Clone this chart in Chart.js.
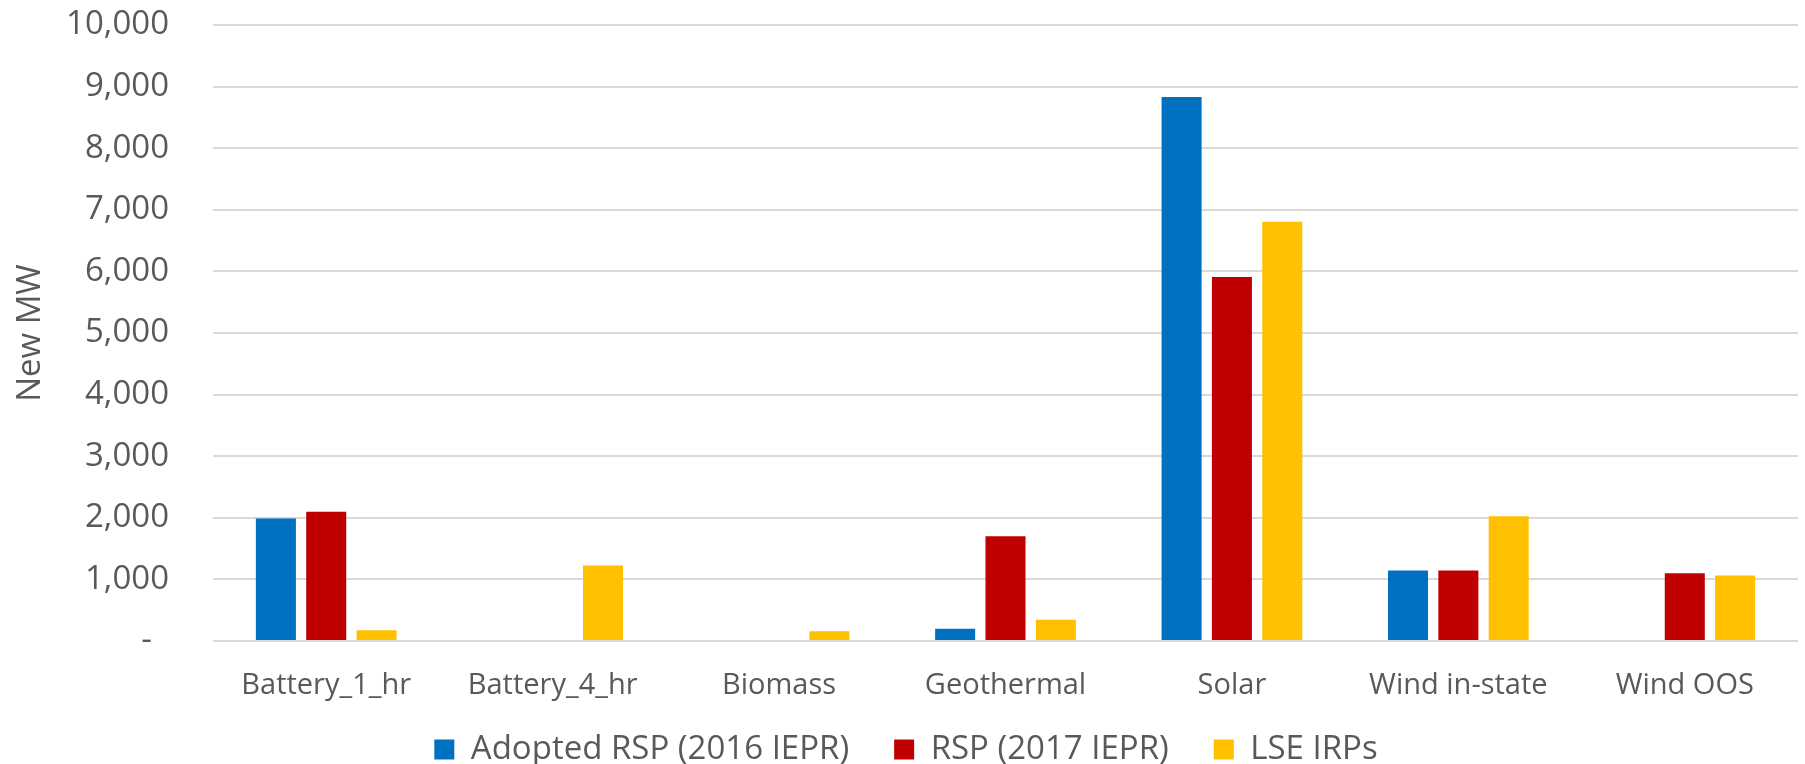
<!DOCTYPE html>
<html>
<head>
<meta charset="utf-8">
<script src="https://cdn.jsdelivr.net/npm/chart.js@4/dist/chart.umd.min.js"></script>
<style>
  html, body { margin: 0; padding: 0; background: #ffffff; }
  #wrap { width: 1805px; height: 764px; }
</style>
</head>
<body>
<div id="wrap"><canvas id="chart" width="1805" height="764"></canvas></div>
<script>
// Technology categories along the x axis
const categories = ['Battery_1_hr', 'Battery_4_hr', 'Biomass', 'Geothermal', 'Solar', 'Wind in-state', 'Wind OOS'];

// New capacity (MW) by portfolio
const adoptedRsp2016 = [1990, 0, 0, 200, 8830, 1145, 0];
const rsp2017 = [2100, 0, 0, 1700, 5910, 1145, 1100];
const lseIrps = [175, 1225, 160, 345, 6805, 2025, 1065];

// Series names and colours
const seriesNames = ['Adopted RSP (2016 IEPR)', 'RSP (2017 IEPR)', 'LSE IRPs'];
const seriesColors = ['#0070C0', '#C00000', '#FFC000'];

// Value axis range
const yMin = 0;
const yMax = 10000;
const yStep = 1000;

const FONT = "'Open Sans', 'DejaVu Sans', sans-serif";
const TEXT = '#595959';
const GRID = '#d9d9d9';

const seriesValues = [adoptedRsp2016, rsp2017, lseIrps];

// Category labels are clipped to the x-axis box: let them extend down to the canvas edge.
// The legend is centred on the full canvas width rather than on the inset layout box.
const layoutTweaks = {
  id: 'layoutTweaks',
  afterLayout(chart) {
    chart.scales.x.bottom = chart.height;
    const shift = chart.options.layout.padding.right;
    chart.legend.left += shift;
    chart.legend.right += shift;
  }
};

new Chart(document.getElementById('chart'), {
  type: 'bar',
  data: {
    labels: categories,
    datasets: seriesValues.map((vals, i) => ({
      label: seriesNames[i],
      data: vals,
      backgroundColor: seriesColors[i],
      borderWidth: 0,
      categoryPercentage: 0.667,
      barPercentage: 0.795
    }))
  },
  plugins: [layoutTweaks],
  options: {
    responsive: false,
    animation: false,
    layout: { padding: { top: 25, right: 7, left: 0, bottom: 0 } },
    plugins: {
      tooltip: { enabled: false },
      legend: {
        position: 'bottom',
        maxHeight: 76,
        labels: {
          color: TEXT,
          font: { family: FONT, size: 33 },
          boxWidth: 20,
          boxHeight: 20,
          padding: 45
        }
      }
    },
    scales: {
      x: {
        grid: { display: false, drawTicks: false },
        border: { display: false },
        ticks: {
          color: TEXT,
          font: { family: FONT, size: 29 },
          padding: 27,
          maxRotation: 0,
          autoSkip: false
        },
        afterFit(scale) {
          scale.height = 47;
          scale.paddingLeft = 0;
          scale.paddingRight = 0;
        }
      },
      y: {
        min: yMin,
        max: yMax,
        grid: { color: GRID, lineWidth: 2, drawTicks: false },
        border: { display: false },
        ticks: {
          stepSize: yStep,
          color: TEXT,
          font: { family: FONT, size: 33 },
          padding: 44,
          callback: (v) => v === 0 ? '-  ' : v.toLocaleString('en-US')
        },
        title: {
          display: true,
          text: 'New MW',
          color: TEXT,
          font: { family: FONT, size: 33 },
          padding: { top: 11, bottom: 0 }
        },
        afterFit(scale) {
          scale.width = 213;
          scale.paddingTop = 0;
          scale.paddingBottom = 0;
        }
      }
    }
  }
});
</script>
</body>
</html>
